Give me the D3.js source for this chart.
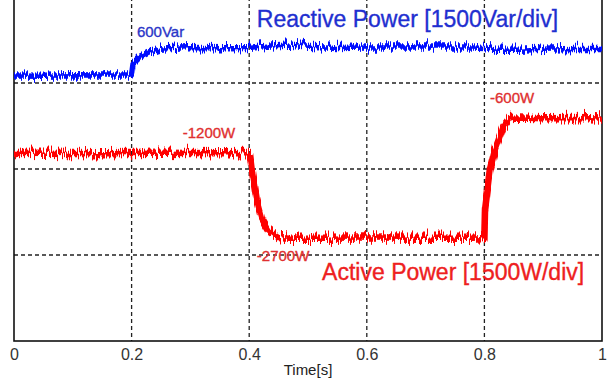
<!DOCTYPE html>
<html>
<head>
<meta charset="utf-8">
<script src="https://cdn.jsdelivr.net/npm/d3@7"></script>
<style>
  html, body { margin: 0; padding: 0; background: #fff; }
  svg { display: block; font-family: "Liberation Sans", Arial, sans-serif; }
</style>
</head>
<body>
<svg id="chart" width="608" height="386"></svg>
<script>
// ---- data ----
// Time axis [s]
const xTicks = [0, 0.2, 0.4, 0.6, 0.8, 1];
const xTickLabels = ["0", "0.2", "0.4", "0.6", "0.8", "1"];
// Vertical divisions: 1500 W (or Var) per division; 0 W sits on the 3rd division line
const yGrid = [-4500, -3000, -1500, 0, 1500];

// Reactive power trace [Var]
const reactiveT = [0, 0.05, 0.10, 0.15, 0.20, 0.2024, 0.214, 0.231, 0.248, 0.282, 0.316, 0.36, 0.40, 0.43, 0.47, 0.50, 0.55, 0.60, 0.70, 0.78, 0.80, 0.82, 0.86, 0.90, 0.95, 1.0];
const reactiveQ = [140, 135, 145, 140, 140, 330, 450, 530, 590, 610, 620, 615, 620, 660, 680, 640, 620, 630, 630, 630, 620, 570, 570, 590, 600, 600];

// Active power trace [W]
const activeT = [0, 0.05, 0.10, 0.15, 0.20, 0.25, 0.30, 0.35, 0.4014, 0.405, 0.413, 0.422, 0.432, 0.449, 0.469, 0.52, 0.60, 0.70, 0.78, 0.80, 0.801, 0.8095, 0.818, 0.832, 0.8435, 0.8605, 0.90, 0.95, 1.0];
const activeP = [-1220, -1215, -1220, -1225, -1220, -1215, -1220, -1225, -1220, -1518, -2040, -2390, -2565, -2686, -2700, -2700, -2695, -2700, -2700, -2686, -2215, -1518, -1168, -768, -610, -600, -615, -610, -620];

// Annotations
const annotations = [
  { text: "600Var", t: 0.209, v: 802, size: 15, color: "#2a35c8" },
  { text: "-1200W", t: 0.287, v: -959, size: 15, color: "#e03030" },
  { text: "-2700W", t: 0.413, v: -3105, size: 15, color: "#e03030" },
  { text: "-600W", t: 0.8095, v: -349, size: 15, color: "#e03030" },
  { text: "Reactive Power [1500Var/div]", t: 0.413, v: 977, size: 23, color: "#1f2fd0" },
  { text: "Active Power [1500W/div]", t: 0.524, v: -3436, size: 23, color: "#ee2020" }
];

// ---- drawing ----
const svg = d3.select("#chart");
const x = d3.scaleLinear().domain([0, 1]).range([14, 602]);
const y = d3.scaleLinear().domain([-4500, 1500]).range([341, -3]);

// noise filter: vertical jitter of traces (style only)
const defs = svg.append("defs");
function noiseFilter(id, seed, scale) {
  const f = defs.append("filter").attr("id", id)
    .attr("filterUnits", "userSpaceOnUse")
    .attr("x", 0).attr("y", -20).attr("width", 608).attr("height", 420);
  f.append("feTurbulence").attr("type", "fractalNoise")
    .attr("baseFrequency", "0.7 0.015").attr("numOctaves", 2).attr("seed", seed).attr("result", "n");
  f.append("feColorMatrix").attr("in", "n").attr("type", "matrix")
    .attr("values", "0 0 0 0 0.5  0 1 0 0 0  0 0 1 0 0  0 0 0 0 1").attr("result", "m");
  f.append("feDisplacementMap").attr("in", "SourceGraphic").attr("in2", "m")
    .attr("scale", scale).attr("xChannelSelector", "R").attr("yChannelSelector", "G");
}
noiseFilter("noiseB", 3, 16);
noiseFilter("noiseR", 7, 18);

// grid
const grid = svg.append("g");
grid.selectAll("line.v").data(xTicks.slice(1, -1)).enter().append("line")
  .attr("x1", d => x(d)).attr("x2", d => x(d))
  .attr("y1", y(1500)).attr("y2", y(-4500))
  .attr("stroke", "#222").attr("stroke-width", 1.3).attr("stroke-dasharray", "4,3");
grid.selectAll("line.h").data(yGrid.slice(1, -1)).enter().append("line")
  .attr("x1", x(0)).attr("x2", x(1))
  .attr("y1", d => y(d)).attr("y2", d => y(d))
  .attr("stroke", "#222").attr("stroke-width", 1.3).attr("stroke-dasharray", "4,3");

// frame
svg.append("rect")
  .attr("x", x(0)).attr("y", y(1500))
  .attr("width", x(1) - x(0)).attr("height", y(-4500) - y(1500))
  .attr("fill", "none").attr("stroke", "#111").attr("stroke-width", 1.6);

// x axis labels
const xAxis = d3.axisBottom(x).tickValues(xTicks)
  .tickFormat((d, i) => xTickLabels[i]).tickSize(0).tickPadding(8);
const gx = svg.append("g").attr("transform", `translate(0,${y(-4500)})`).call(xAxis);
gx.select(".domain").remove();
gx.selectAll("text").attr("font-size", 16).attr("fill", "#333")
  .attr("font-family", "Liberation Sans, Arial, sans-serif");

svg.append("text").attr("x", (x(0) + x(1)) / 2).attr("y", 375)
  .attr("text-anchor", "middle").attr("font-size", 15).attr("fill", "#222")
  .text("Time[s]");

// traces
const lineQ = d3.line().x(d => x(d[0])).y(d => y(d[1]));
svg.append("path").datum(reactiveT.map((t, i) => [t, reactiveQ[i]]))
  .attr("d", lineQ).attr("fill", "none").attr("stroke", "#0010ff")
  .attr("stroke-width", 5.5).attr("stroke-linejoin", "round").attr("filter", "url(#noiseB)");
svg.append("path").datum(activeT.map((t, i) => [t, activeP[i]]))
  .attr("d", lineQ).attr("fill", "none").attr("stroke", "#ff0000")
  .attr("stroke-width", 6.5).attr("stroke-linejoin", "round").attr("filter", "url(#noiseR)");

// annotations
svg.selectAll("text.ann").data(annotations).enter().append("text")
  .attr("class", "ann")
  .attr("x", d => x(d.t)).attr("y", d => y(d.v))
  .attr("font-size", d => d.size).attr("fill", d => d.color)
  .attr("stroke", d => d.color).attr("stroke-width", 0.35)
  .text(d => d.text);
</script>
</body>
</html>
